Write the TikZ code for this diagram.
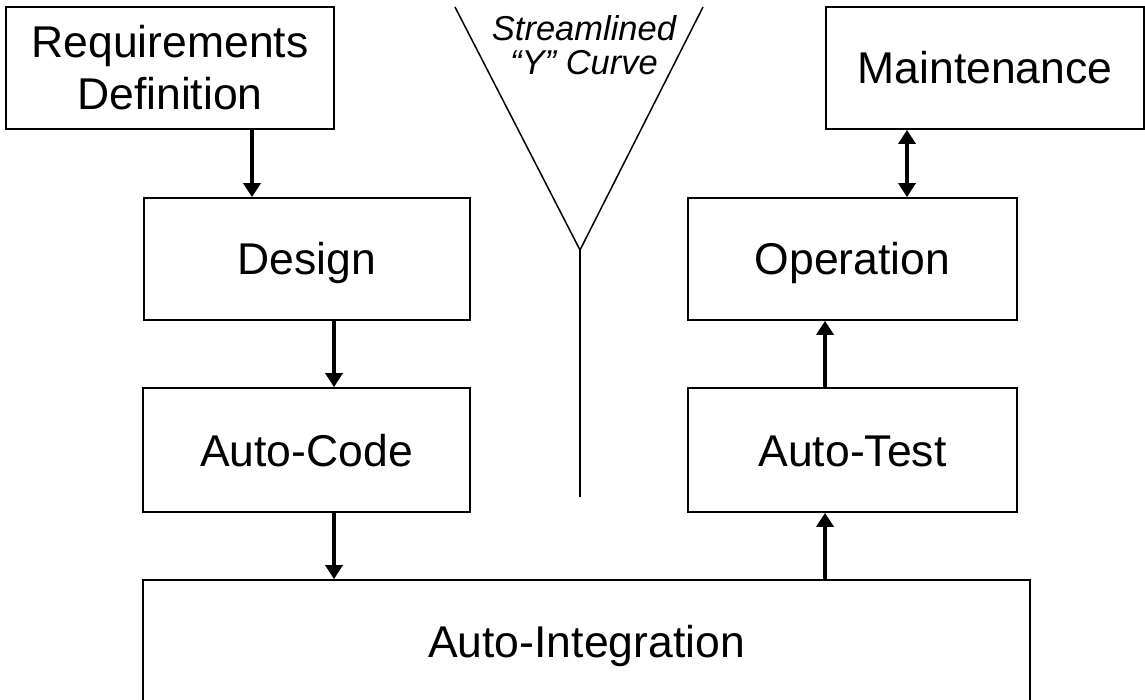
\documentclass[tikz,border=0pt]{standalone}
\usepackage{fontspec}
\setmainfont{Liberation Sans}
\usetikzlibrary{arrows.meta,calc}
\begin{document}
\begin{tikzpicture}[x=1pt,y=-1pt,
  box/.style={draw=black,line width=1.8pt,inner sep=0pt,align=center,
    font=\fontsize{44.5}{52}\selectfont},
  one/.style={text height=32pt,text depth=0pt},
  arr/.style={line width=4.5pt,-{Triangle[width=17pt,length=14pt]}},
  darr/.style={line width=4.5pt,{Triangle[width=17pt,length=14pt]}-{Triangle[width=17pt,length=14pt]}},
  vline/.style={line width=1.5pt}]
\useasboundingbox (0,0) rectangle (1145,700);
\fill[white] (0,0) rectangle (1145,700);
\node[box,minimum width=328pt,minimum height=122pt] (req) at (170,68) {Requirements\\Definition};
\node[box,one,minimum width=318pt,minimum height=122pt] (maint) at (985,68) {Maintenance};
\node[box,one,minimum width=326pt,minimum height=122pt] (design) at (307,259) {Design};
\node[box,one,minimum width=329pt,minimum height=122pt] (oper) at (852.5,259) {Operation};
\node[box,one,minimum width=327pt,minimum height=124pt] (code) at (306.5,450) {Auto-Code};
\node[box,one,minimum width=329pt,minimum height=124pt] (test) at (852.5,450) {Auto-Test};
\node[box,one,minimum width=887pt,minimum height=122pt] (integ) at (586.5,641) {Auto-Integration};
% Y curve
\coordinate (yl) at (455,7);
\coordinate (yr) at (703,7);
\coordinate (yapex) at (580,250);
\coordinate (ybot) at (580,497);
\draw[vline] (yl) -- (yapex) -- (yr);
\draw[vline] (yapex) -- (ybot);
\node[align=center,inner sep=0pt,font=\fontsize{34.5}{34}\selectfont\itshape] (ylabel) at (584,45) {Streamlined\\“Y” Curve};
% connectors
\draw[arr] ([xshift=82pt]req.south) -- ([xshift=82pt]req.south |- design.north);
\draw[arr] ([xshift=27pt]design.south) -- ([xshift=27pt]design.south |- code.north);
\draw[arr] ([xshift=27.5pt]code.south) -- ([xshift=27.5pt]code.south |- integ.north);
\draw[arr] ([xshift=-27.5pt]test.south |- integ.north) -- ([xshift=-27.5pt]test.south);
\draw[arr] ([xshift=-27.5pt]oper.south |- test.north) -- ([xshift=-27.5pt]oper.south);
\draw[darr] ([xshift=-78pt]maint.south) -- ([xshift=-78pt]maint.south |- oper.north);
\end{tikzpicture}
\end{document}
